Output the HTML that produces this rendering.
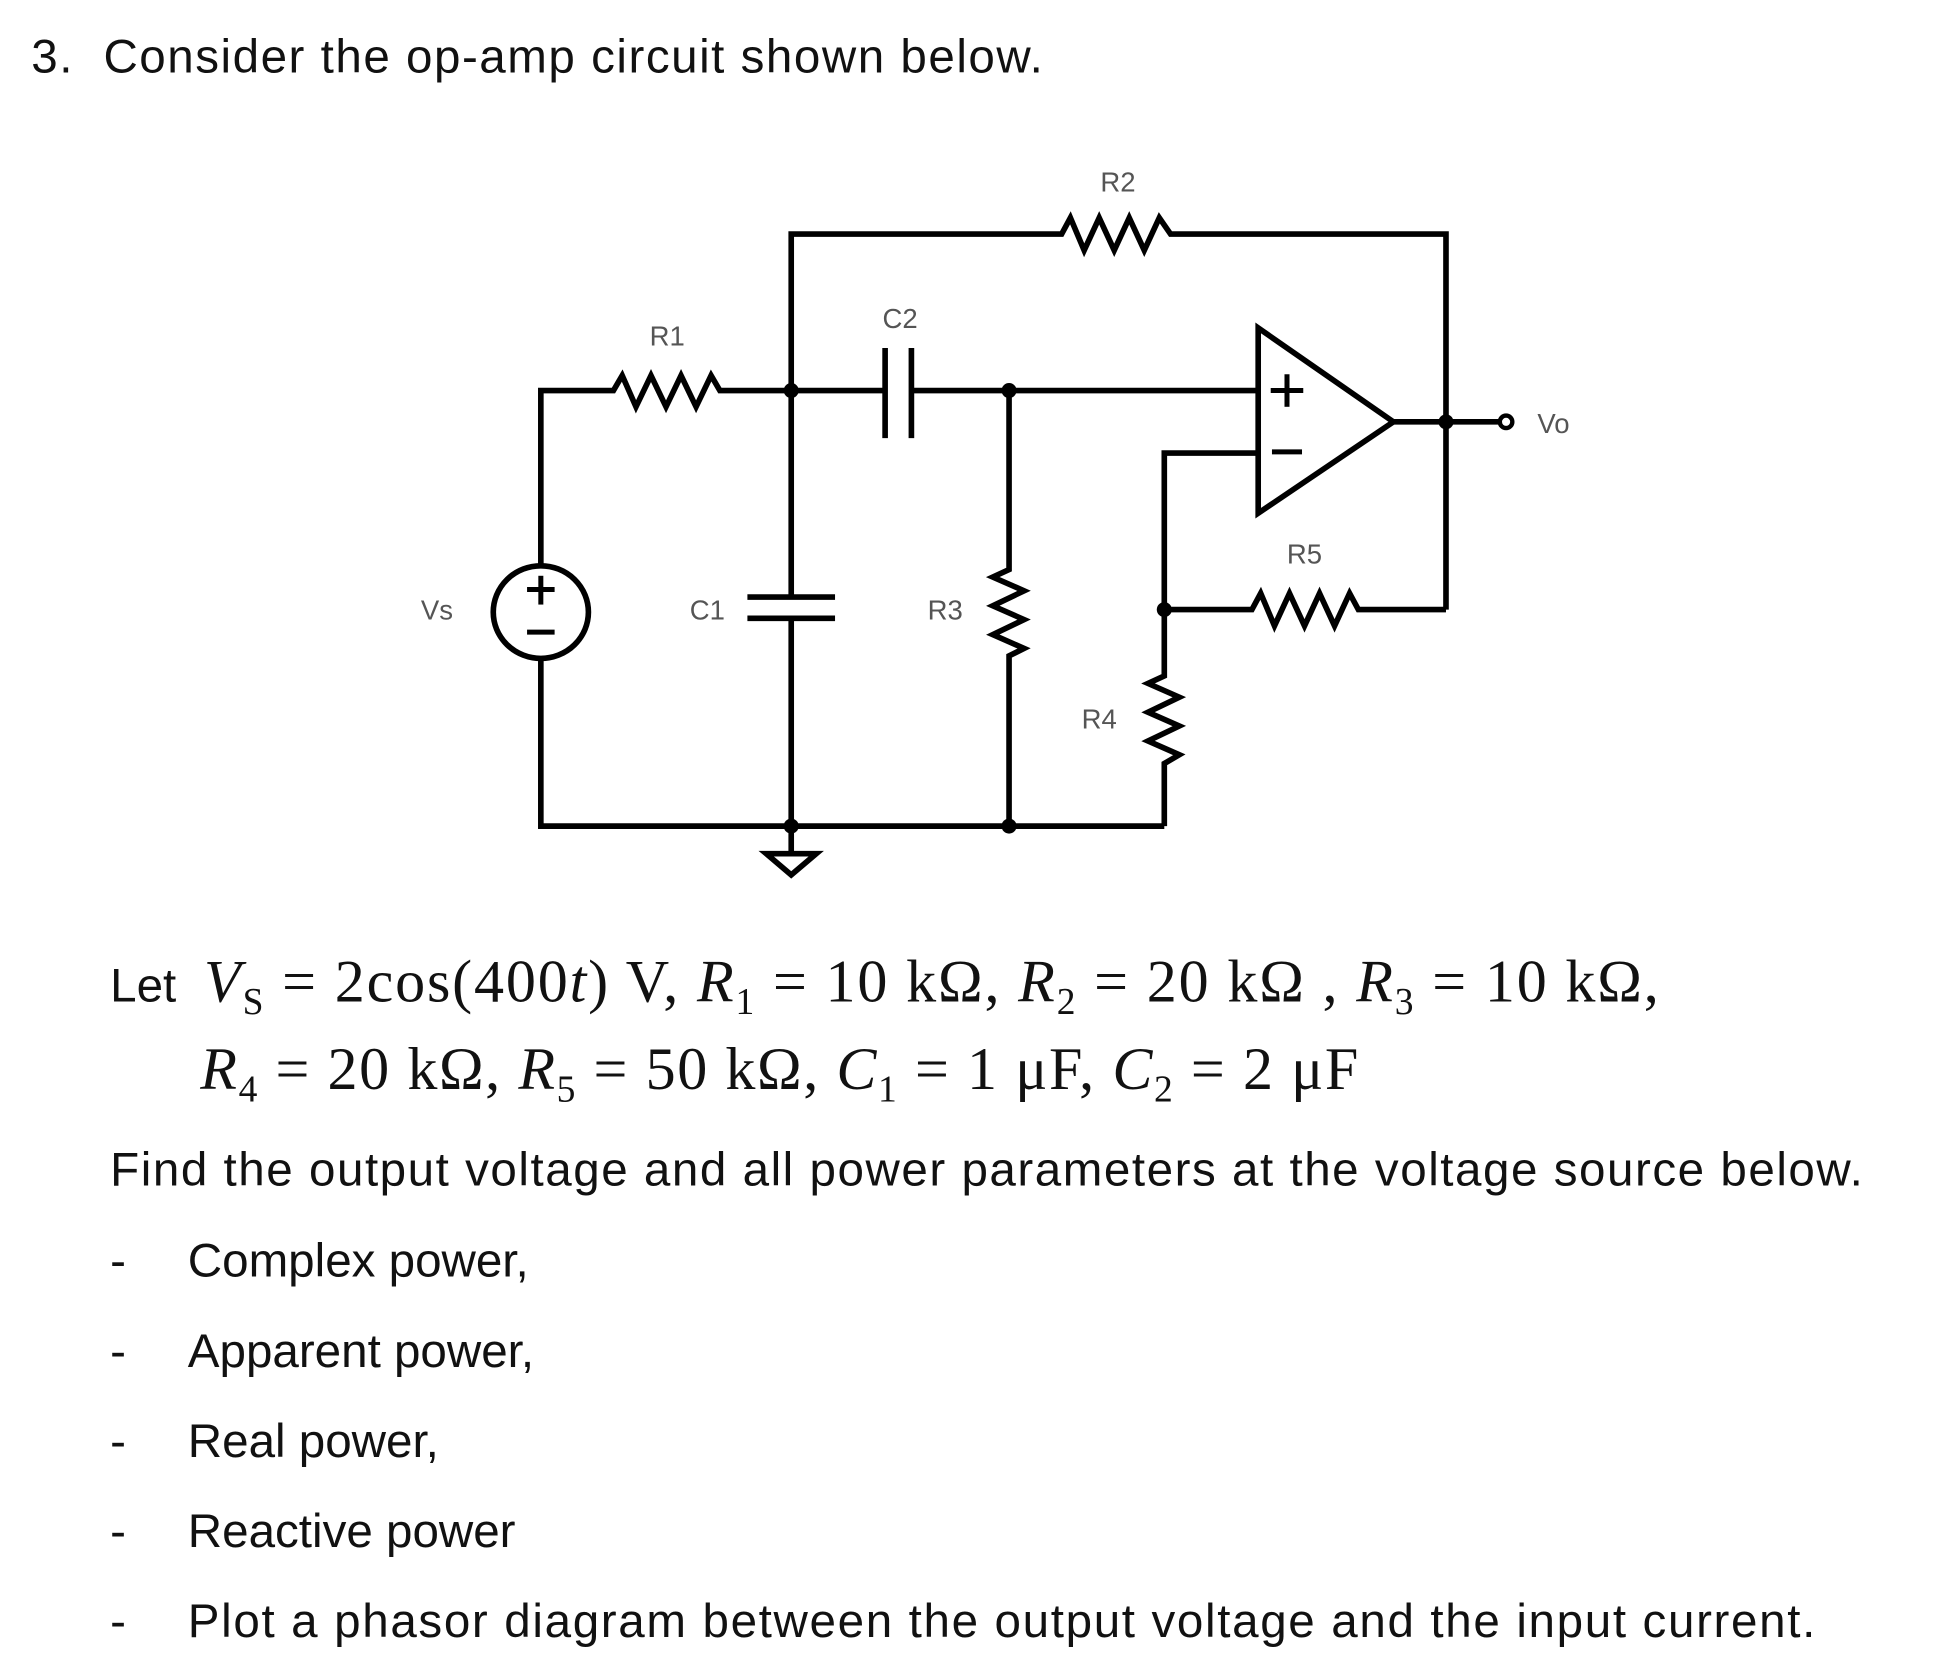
<!DOCTYPE html>
<html><head><meta charset="utf-8"><style>
html,body{margin:0;padding:0;background:#fff;}
svg{display:block}
.t{font-family:"Liberation Sans",sans-serif;fill:#111;font-size:38px}
.m{font-family:"Liberation Serif",serif;fill:#111;font-size:48px}
.l{font-family:"Liberation Sans",sans-serif;fill:#555;font-size:22px}
</style></head><body>
<svg width="1943" height="1656" viewBox="0 0 1552 1323" preserveAspectRatio="none" xmlns="http://www.w3.org/2000/svg">
<rect width="1552" height="1323" fill="#fff"/>
<text class="t" x="25" y="58" textLength="808">3.&#160;&#160;Consider the op-amp circuit shown below.</text>
<g stroke="#000" stroke-width="4.5" fill="none" stroke-linejoin="miter">
<polyline points="632,312 632,187 848,187 855,174 866,200 878,174 890,200 902,174 914,200 926,174 935,187 1155,187 1155,487"/>
<polyline points="432,452 432,312 490,312 497,300 508,325 520,300 532,325 544,300 556,325 568,300 575,312 632,312"/>
<ellipse cx="432" cy="489" rx="38" ry="37"/>
<polyline points="432,526 432,660 930,660"/>
<polyline points="632,312 632,477"/>
<line x1="597" y1="477" x2="667" y2="477"/>
<line x1="597" y1="494" x2="667" y2="494"/>
<polyline points="632,494 632,680"/>
<line x1="632" y1="312" x2="707" y2="312"/>
<line x1="707" y1="278" x2="707" y2="350"/>
<line x1="728" y1="278" x2="728" y2="350"/>
<line x1="728" y1="312" x2="1005" y2="312"/>
<polyline points="806,312 806,455 793,461 818,472 793,484 818,495 793,507 818,518 806,524 806,660"/>
<polygon points="1005,262 1005,410 1113,337"/>
<line x1="1113" y1="337" x2="1198" y2="337"/>
<polyline points="1005,362 930,362 930,540 917,546 942,557 917,569 942,580 917,592 942,603 930,610 930,660"/>
<polyline points="930,487 1000,487 1007,474 1018,500 1030,474 1042,500 1054,474 1066,500 1078,474 1085,487 1155,487"/>
<polygon points="612,682 652,682 632,699"/>
</g>
<circle cx="1203" cy="337" r="5" fill="#fff" stroke="#000" stroke-width="3.5"/>
<g fill="#000">
<circle cx="632" cy="312" r="6"/><circle cx="806" cy="312" r="6"/>
<circle cx="632" cy="660" r="6"/><circle cx="806" cy="660" r="6"/>
<circle cx="930" cy="487" r="6"/><circle cx="1155" cy="337" r="6"/>
</g>
<g stroke="#000" stroke-width="4">
<line x1="432" y1="460" x2="432" y2="483"/><line x1="421" y1="471" x2="443" y2="471"/>
<line x1="421" y1="505" x2="443" y2="505"/>
<line x1="1028" y1="299" x2="1028" y2="325"/><line x1="1015" y1="312" x2="1041" y2="312"/>
<line x1="1016" y1="361" x2="1040" y2="361"/>
</g>
<text class="l" x="893" y="153" text-anchor="middle">R2</text>
<text class="l" x="533" y="276" text-anchor="middle">R1</text>
<text class="l" x="719" y="262" text-anchor="middle">C2</text>
<text class="l" x="349" y="495" text-anchor="middle">Vs</text>
<text class="l" x="565" y="495" text-anchor="middle">C1</text>
<text class="l" x="755" y="495" text-anchor="middle">R3</text>
<text class="l" x="1042" y="450" text-anchor="middle">R5</text>
<text class="l" x="878" y="582" text-anchor="middle">R4</text>
<text class="l" x="1228" y="346">Vo</text>

<text class="t" x="88" y="800" font-size="36">Let</text>
<text class="m" x="163" y="800" textLength="1162"><tspan font-style="italic">V</tspan><tspan font-size="30" dy="10">S</tspan><tspan dy="-10"> = 2cos(400</tspan><tspan font-style="italic">t</tspan>) V, <tspan font-style="italic">R</tspan><tspan font-size="30" dy="10">1</tspan><tspan dy="-10"> = 10 kΩ, </tspan><tspan font-style="italic">R</tspan><tspan font-size="30" dy="10">2</tspan><tspan dy="-10"> = 20 kΩ , </tspan><tspan font-style="italic">R</tspan><tspan font-size="30" dy="10">3</tspan><tspan dy="-10"> = 10 kΩ,</tspan></text>
<text class="m" x="160" y="870" textLength="925"><tspan font-style="italic">R</tspan><tspan font-size="30" dy="10">4</tspan><tspan dy="-10"> = 20 kΩ, </tspan><tspan font-style="italic">R</tspan><tspan font-size="30" dy="10">5</tspan><tspan dy="-10"> = 50 kΩ, </tspan><tspan font-style="italic">C</tspan><tspan font-size="30" dy="10">1</tspan><tspan dy="-10"> = 1 μF, </tspan><tspan font-style="italic">C</tspan><tspan font-size="30" dy="10">2</tspan><tspan dy="-10"> = 2 μF</tspan></text>
<text class="t" x="88" y="947" textLength="1400">Find the output voltage and all power parameters at the voltage source below.</text>
<text class="t" x="88" y="1020">-</text><text class="t" x="150" y="1020">Complex power,</text>
<text class="t" x="88" y="1092">-</text><text class="t" x="150" y="1092">Apparent power,</text>
<text class="t" x="88" y="1164">-</text><text class="t" x="150" y="1164">Real power,</text>
<text class="t" x="88" y="1236">-</text><text class="t" x="150" y="1236">Reactive power</text>
<text class="t" x="88" y="1308">-</text><text class="t" x="150" y="1308" textLength="1300">Plot a phasor diagram between the output voltage and the input current.</text>
</svg>
</body></html>
